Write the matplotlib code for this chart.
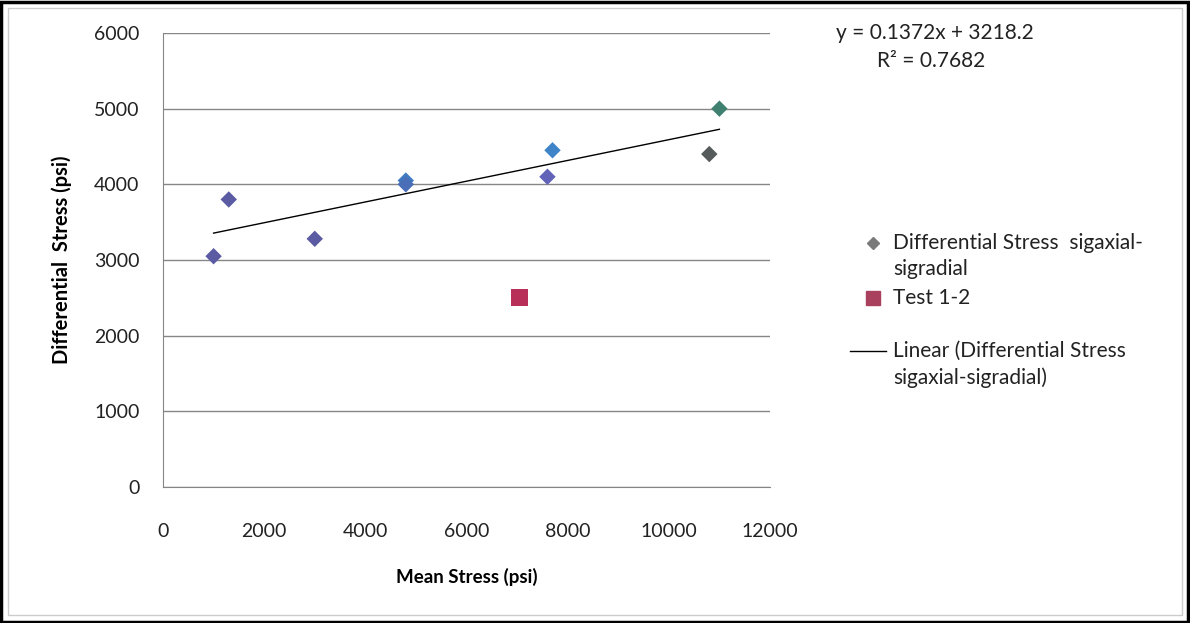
import numpy as np
import matplotlib
matplotlib.use("Agg")
import matplotlib.pyplot as plt
from matplotlib.lines import Line2D
from matplotlib.patches import Rectangle

plt.rcParams['font.family'] = ['Lato', 'DejaVu Sans']

# data
mean_stress = [1000, 1300, 3000, 4800, 4800, 7600, 7700, 10800, 11000]
diff_stress = [3050, 3800, 3280, 4050, 4000, 4100, 4450, 4400, 5000]
point_colors = ['#5b5ba3', '#5b5ba3', '#5b5ba3', '#3f79c0', '#4a6fb8',
                '#6262b8', '#3f84c8', '#555a5a', '#3f8070']
test_x = [7050]
test_y = [2500]
trend_slope = 0.1372
trend_icept = 3218.2
x_ticks = [0, 2000, 4000, 6000, 8000, 10000, 12000]
y_ticks = [0, 1000, 2000, 3000, 4000, 5000, 6000]

W, H = 1190, 623
txt = '#222222'
fs = 15

fig = plt.figure(figsize=(W / 100, H / 100), dpi=100)
ax = fig.add_axes([163 / W, 1 - 487 / H, 607 / W, 454 / H])

ax.scatter(mean_stress, diff_stress, marker='D', s=70, c=point_colors,
           edgecolors='none', zorder=3)
ax.scatter(test_x, test_y, marker='s', s=150, c='#b8305a',
           edgecolors='none', zorder=3)

xs = np.array([min(mean_stress), max(mean_stress)])
ax.plot(xs, trend_slope * xs + trend_icept, color='black', lw=1, zorder=2)

ax.set_xlim(0, 12000)
ax.set_ylim(0, 6000)
ax.set_xticks(x_ticks)
ax.set_yticks(y_ticks)
ax.tick_params(length=0, labelsize=14, colors=txt)
ax.tick_params(axis='x', pad=26)
ax.tick_params(axis='y', pad=17)
ax.yaxis.grid(True, color='#868686', lw=1)
ax.set_axisbelow(True)
for side in ['top', 'right']:
    ax.spines[side].set_visible(False)
for side in ['left', 'bottom']:
    ax.spines[side].set_color('#868686')

ax.set_xlabel('Mean Stress (psi)', fontsize=13.5, fontweight='bold', labelpad=20)
ax.set_ylabel('Differential  Stress (psi)', fontsize=14.5, fontweight='bold', labelpad=16)

# trendline equation
fig.text(935 / W, 1 - 33 / H, 'y = 0.1372x + 3218.2', fontsize=fs,
         ha='center', va='center', color=txt)
fig.text(931 / W, 1 - 61 / H, 'R² = 0.7682', fontsize=fs,
         ha='center', va='center', color=txt)

# legend drawn by hand
fig.add_artist(Line2D([873 / W], [1 - 243 / H], marker='D', ms=6,
                      color='#7a7a7a', ls='none'))
fig.text(893 / W, 1 - 243 / H, 'Differential Stress  sigaxial-', fontsize=fs,
         va='center', color=txt)
fig.text(893 / W, 1 - 269 / H, 'sigradial', fontsize=fs,
         va='center', color=txt)
fig.add_artist(Line2D([873 / W], [1 - 298 / H], marker='s', ms=10,
                      color='#a8405e', ls='none'))
fig.text(893 / W, 1 - 298 / H, 'Test 1-2', fontsize=fs,
         va='center', color=txt)
fig.add_artist(Line2D([850 / W, 886 / W], [1 - 351 / H] * 2,
                      color='black', lw=1))
fig.text(893 / W, 1 - 351 / H, 'Linear (Differential Stress', fontsize=fs,
         va='center', color=txt)
fig.text(893 / W, 1 - 378 / H, 'sigaxial-sigradial)', fontsize=fs,
         va='center', color=txt)

# picture frame
fig.add_artist(Rectangle((0.001, 0.002), 0.997, 0.995, transform=fig.transFigure,
                         fill=False, edgecolor='black', lw=2.5))
fig.add_artist(Rectangle((8 / W, 8 / H), 1 - 16 / W, 1 - 16 / H,
                         transform=fig.transFigure, fill=False,
                         edgecolor='#cccccc', lw=1))

fig.savefig('out.png', dpi=100)
